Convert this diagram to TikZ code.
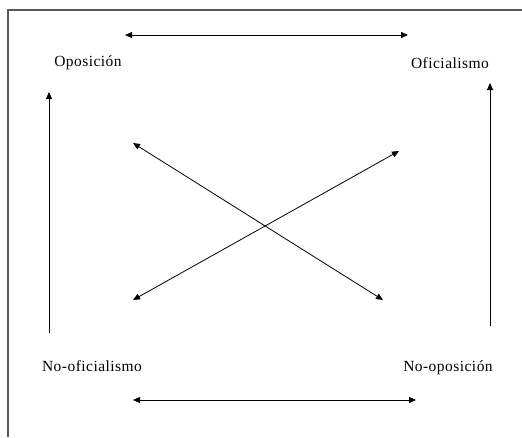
\documentclass[tikz,border=0pt]{standalone}
\usepackage{fontspec}
\setmainfont[LetterSpace=3]{Liberation Serif}
\usetikzlibrary{arrows.meta}
\begin{document}
\begin{tikzpicture}[x=1pt,y=-1pt,
  lbl/.style={inner sep=0pt,font=\fontsize{15.5}{17}\selectfont},
  arr/.style={line width=0.8pt,-{Triangle[length=7pt,width=6pt]}},
  darr/.style={line width=0.8pt,{Triangle[length=7pt,width=6pt]}-{Triangle[length=7pt,width=6pt]}}]
\useasboundingbox (0,0) rectangle (522,437);
\draw[gray!70!black,line width=1.2pt] (8,437) -- (8,10) -- (522,10);
\node[lbl] (op) at (88,63) {Oposición};
\node[lbl] (of) at (450,63) {Oficialismo};
\node[lbl] (nof) at (92,366) {No-oficialismo};
\node[lbl] (nop) at (448,368) {No-oposición};
\coordinate (t1) at (125,35); \coordinate (t2) at (408,35);
\coordinate (b1) at (133,400); \coordinate (b2) at (416,400);
\coordinate (l1) at (49,333); \coordinate (l2) at (49,92);
\coordinate (r1) at (490,326); \coordinate (r2) at (490,83);
\coordinate (x1) at (133,143); \coordinate (x2) at (383,300);
\coordinate (y1) at (133,300); \coordinate (y2) at (399,151);
\draw[darr] (t1) -- (t2);
\draw[darr] (b1) -- (b2);
\draw[arr] (l1) -- (l2);
\draw[arr] (r1) -- (r2);
\draw[darr] (x1) -- (x2);
\draw[darr] (y1) -- (y2);
\end{tikzpicture}
\end{document}
